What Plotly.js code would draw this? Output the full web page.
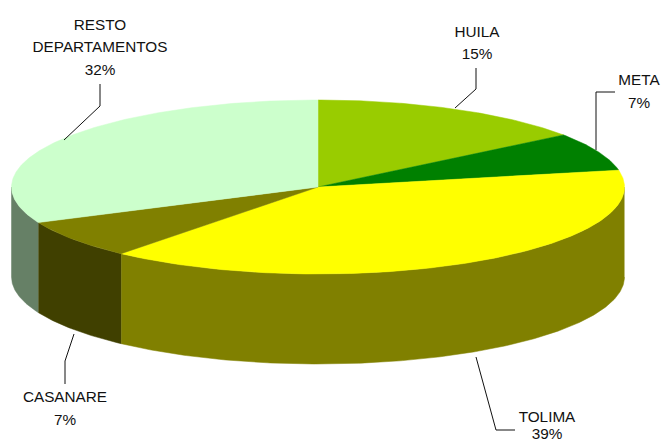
<!DOCTYPE html>
<html>
<head>
<meta charset="utf-8">
<script src="https://cdn.plot.ly/plotly-3.0.1.min.js"></script>
<style>html,body{margin:0;padding:0;background:#fff;overflow:hidden}#chart{width:661px;height:443px}</style>
</head>
<body>
<div id="chart"></div>
<script>
// Data (unrounded estimates; printed labels are the rounded values)
const categories = ["HUILA", "META", "TOLIMA", "CASANARE", "RESTO DEPARTAMENTOS"];
const shares = [14.8, 7.1, 39.2, 7.2, 31.7];
const topColors = ["#99CC00", "#008000", "#FFFF00", "#808000", "#CCFFCC"];
const sideColors = ["#4D6600", "#004000", "#808000", "#404000", "#668066"];

// Label text, one row per printed line
const labelText = ["RESTO", "DEPARTAMENTOS", "32%", "HUILA", "15%", "META", "7%", "CASANARE", "7%", "TOLIMA", "39%"];
const labelX = [100, 100, 100, 477, 477, 639, 639, 65, 65, 547, 547];
const labelY = [26, 48, 71, 33, 55, 81, 104, 398, 421, 418, 435];

// Leader lines
const leaderX = [[100, 100, 64], [476, 476, 455], [615, 596, 596], [74, 65, 65], [476, 496, 515]];
const leaderY = [[84, 106, 140], [68, 89, 108], [92, 92, 150], [334, 361, 384], [357, 430, 430]];

// Pie geometry, in axis units (equal to pixels here)
const cx = 318, cy = 187, rx = 306.5, ry = 87, depth = 90;
const rad = d => d * Math.PI / 180;
const px = d => cx + rx * Math.sin(rad(d));
const py = d => cy - ry * Math.cos(rad(d));

function arc(a, b) {
  const n = Math.max(2, Math.ceil(Math.abs(b - a) * 2));
  const out = [];
  for (let i = 0; i <= n; i++) out.push(a + (b - a) * i / n);
  return out;
}

const total = shares.reduce((s, v) => s + v, 0);
const traces = [];
const tops = [];
let start = 0;
shares.forEach((v, i) => {
  const end = start + v / total * 360;
  // visible part of the wall: front half of the ellipse, 90 to 270 degrees
  const a = Math.max(start, 90), b = Math.min(end, 270);
  if (b > a) {
    const up = arc(a, b), down = up.slice().reverse();
    traces.push({
      type: "scatter", mode: "lines", fill: "toself", hoverinfo: "skip",
      x: up.map(px).concat(down.map(px)),
      y: up.map(d => py(d)).concat(down.map(d => py(d) + depth)),
      fillcolor: sideColors[i], line: {color: sideColors[i], width: 0.5}
    });
  }
  const t = arc(start, end);
  tops.push({
    type: "scatter", mode: "lines", fill: "toself", name: categories[i],
    x: [cx].concat(t.map(px), [cx]),
    y: [cy].concat(t.map(py), [cy]),
    fillcolor: topColors[i], line: {color: topColors[i], width: 0.5}
  });
  start = end;
});
traces.push(...tops);

leaderX.forEach((lx, i) => traces.push({
  type: "scatter", mode: "lines", hoverinfo: "skip",
  x: lx, y: leaderY[i], line: {color: "#111111", width: 1}
}));

traces.push({
  type: "scatter", mode: "text", hoverinfo: "skip", cliponaxis: false,
  x: labelX, y: labelY, text: labelText, textposition: "middle center",
  textfont: {family: "Liberation Sans, Arial, sans-serif", size: 15.3, color: "#111111"}
});

const layout = {
  width: 661, height: 443, showlegend: false,
  margin: {l: 0, r: 0, t: 0, b: 0},
  paper_bgcolor: "#ffffff", plot_bgcolor: "#ffffff",
  xaxis: {range: [0, 661], visible: false, fixedrange: true},
  yaxis: {range: [443, 0], visible: false, fixedrange: true}
};
Plotly.newPlot("chart", traces, layout, {displayModeBar: false, staticPlot: true});
</script>
</body>
</html>
